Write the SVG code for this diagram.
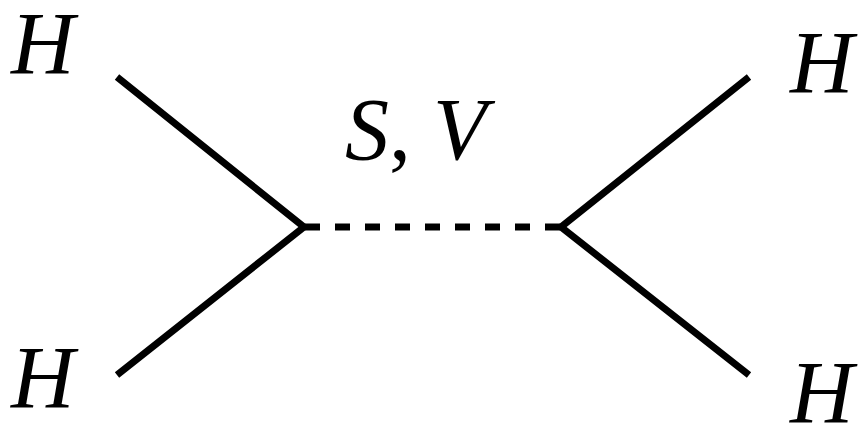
<svg xmlns="http://www.w3.org/2000/svg" width="867" height="428" viewBox="0 0 867 428">
<style>
.l{stroke:#000;stroke-width:7;fill:none;stroke-linecap:butt}
.d{stroke-dasharray:15 15}
text{font-family:'Liberation Serif','Times New Roman',Times,serif;font-size:88px;font-style:italic;fill:#000}
.r{font-style:normal}
</style>
<rect width="867" height="428" fill="#fff"/>
<g id="connectors">
<path class="l" d="M117,77 L304,227 L117,375"/>
<path class="l" d="M749,77 L561,227 L749,375"/>
<path class="l d" d="M305,227 L560,227"/>
</g>
<g id="H1"><text x="11" y="73">H</text></g>
<g id="H2"><text x="11" y="407">H</text></g>
<g id="H3"><text x="790" y="92">H</text></g>
<g id="H4"><text x="790" y="422">H</text></g>
<g id="label"><text x="345" y="159">S<tspan class="r">,</tspan> V</text></g>
</svg>
